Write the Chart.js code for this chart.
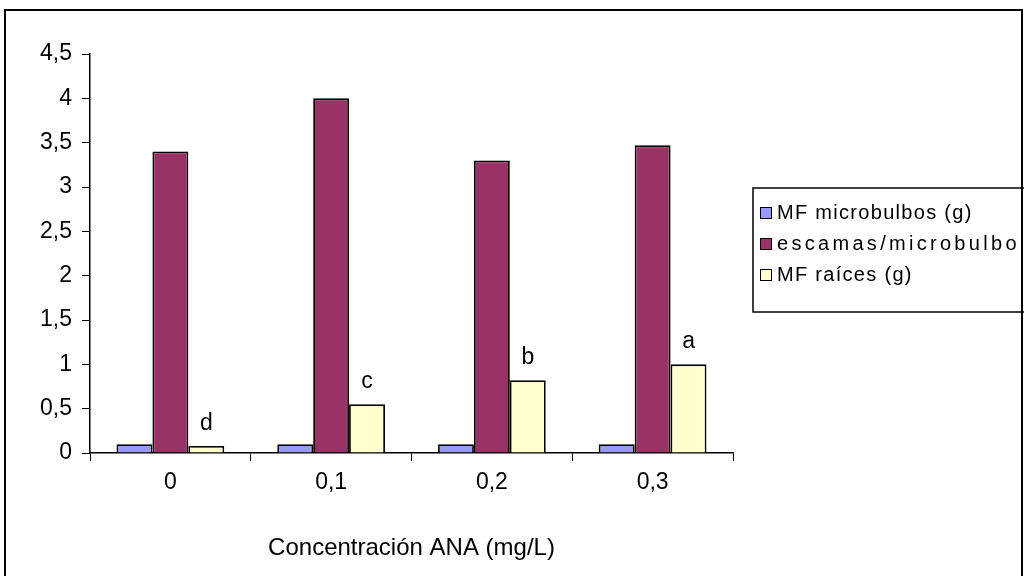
<!DOCTYPE html>
<html>
<head>
<meta charset="utf-8">
<script src="https://cdn.jsdelivr.net/npm/chart.js@4.4.1/dist/chart.umd.min.js"></script>
<style>
  html, body { margin: 0; padding: 0; background: #fff; }
  #wrap { width: 1024px; height: 576px; position: relative; }
</style>
</head>
<body>
<div id="wrap"><canvas id="chart" width="1024" height="576"></canvas></div>
<script>
// Datos
var categorias = ['0', '0,1', '0,2', '0,3'];
var mfMicrobulbos = [0.1, 0.1, 0.1, 0.1];
var escamasMicrobulbo = [3.4, 4.0, 3.3, 3.47];
var mfRaices = [0.08, 0.55, 0.82, 1.0];
var letrasRaices = ['d', 'c', 'b', 'a'];
var nombresSeries = ['MF microbulbos (g)', 'escamas/microbulbo', 'MF raíces (g)'];

var FONT = '"Liberation Sans", Arial, sans-serif';
var colores = ['#9999FF', '#993366', '#FFFFCC'];
// espaciado de letras de la leyenda (la segunda línea es más ancha en el original)
var espaciadoLeyenda = ['1.3px', '3.3px', '1.3px'];

// Marco exterior, letras sobre barras y leyenda
var extras = {
    id: 'extras',
    afterDraw: function(chart) {
        var ctx = chart.ctx;
        ctx.save();

        // marco exterior
        ctx.strokeStyle = '#000';
        ctx.lineWidth = 2;
        ctx.strokeRect(5, 10, 1017, 620);

        // letras sobre las barras amarillas
        ctx.fillStyle = '#000';
        ctx.font = '23px ' + FONT;
        ctx.textAlign = 'center';
        ctx.textBaseline = 'alphabetic';
        var meta = chart.getDatasetMeta(2);
        meta.data.forEach(function(bar, i) {
            ctx.fillText(letrasRaices[i], bar.x, bar.y - 16);
        });

        // leyenda
        ctx.lineWidth = 1.5;
        ctx.strokeRect(753, 188, 300, 124);
        ctx.textAlign = 'left';
        ctx.textBaseline = 'middle';
        ctx.font = '20px ' + FONT;
        chart.data.datasets.forEach(function(ds, i) {
            var y = 212 + i * 31;
            ctx.fillStyle = ds.backgroundColor;
            ctx.fillRect(760, y - 5, 11, 11);
            ctx.lineWidth = 1;
            ctx.strokeRect(760.5, y - 4.5, 11, 11);
            ctx.fillStyle = '#000';
            ctx.letterSpacing = espaciadoLeyenda[i];
            ctx.fillText(ds.label, 777, y + 1);
        });
        ctx.restore();
    }
};

new Chart(document.getElementById('chart'), {
    type: 'bar',
    data: {
        labels: categorias,
        datasets: [
            { label: nombresSeries[0], data: mfMicrobulbos, backgroundColor: colores[0] },
            { label: nombresSeries[1], data: escamasMicrobulbo, backgroundColor: colores[1] },
            { label: nombresSeries[2], data: mfRaices, backgroundColor: colores[2] }
        ].map(function(ds) {
            ds.borderColor = '#000';
            ds.borderWidth = 1.8;
            ds.barPercentage = 1;
            ds.categoryPercentage = 0.67;
            return ds;
        })
    },
    options: {
        responsive: false,
        animation: false,
        events: [],
        layout: { padding: { left: 0, right: 291, top: 54, bottom: 0 } },
        plugins: { legend: { display: false }, tooltip: { enabled: false } },
        scales: {
            x: {
                grid: { drawOnChartArea: false, tickLength: 8, color: '#000', offset: true },
                border: { color: '#000', width: 1.5 },
                ticks: { color: '#000', font: { family: FONT, size: 23 }, padding: 8 },
                title: {
                    display: true,
                    text: 'Concentración ANA (mg/L)',
                    color: '#000',
                    font: { family: FONT, size: 24 },
                    padding: { top: 0, bottom: 13 }
                },
                afterFit: function(scale) { scale.height = 123; }
            },
            y: {
                min: 0,
                max: 4.5,
                grid: { drawOnChartArea: false, tickLength: 8, color: '#000' },
                border: { color: '#000', width: 1.5 },
                ticks: {
                    stepSize: 0.5,
                    color: '#000',
                    padding: 10,
                    font: { family: FONT, size: 23 },
                    callback: function(v) { return String(v).replace('.', ','); }
                },
                afterFit: function(scale) { scale.width = 90; }
            }
        }
    },
    plugins: [extras]
});
</script>
</body>
</html>
